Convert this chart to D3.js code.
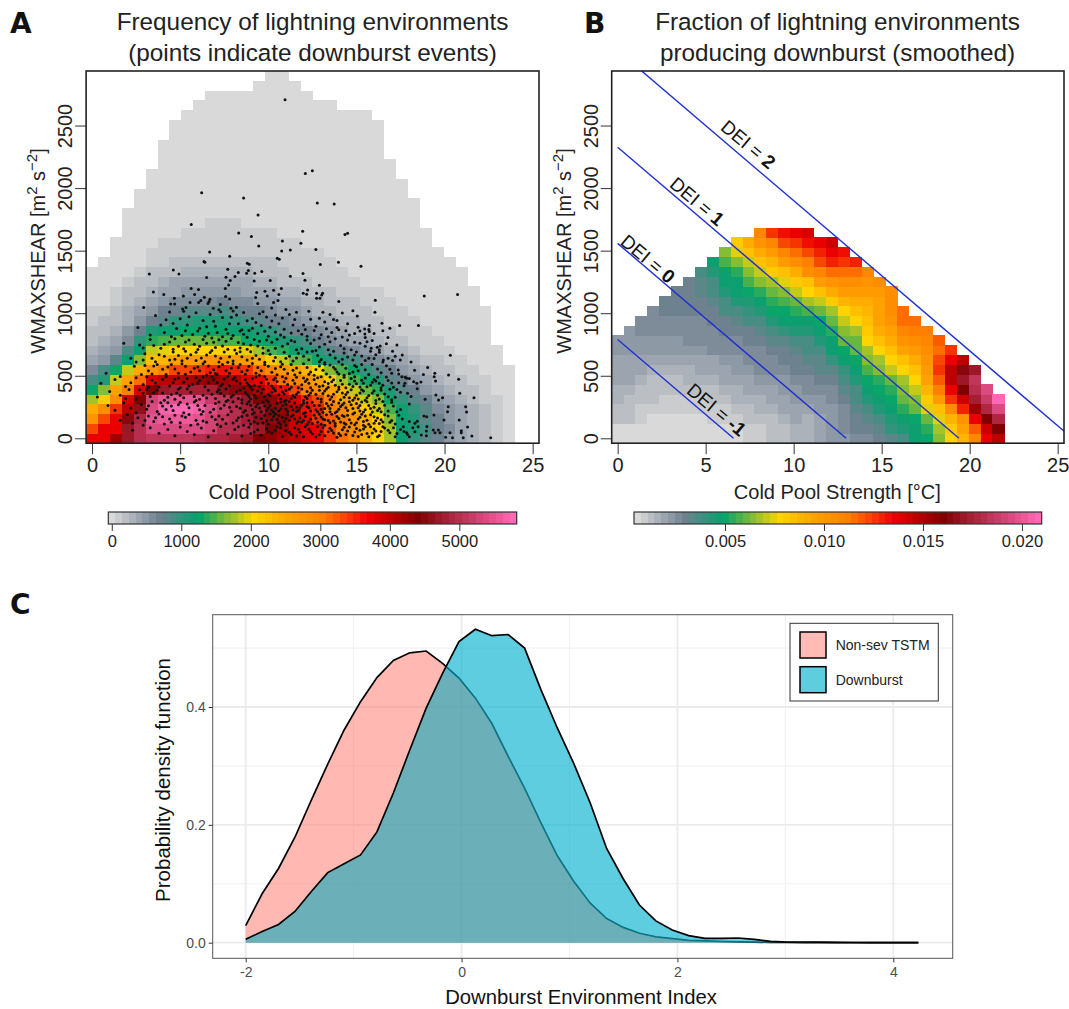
<!DOCTYPE html>
<html>
<head>
<meta charset="utf-8">
<script src="https://cdn.jsdelivr.net/npm/d3@7"></script>
<style>
  html, body { margin: 0; background: #fff; }
  text { font-family: "Liberation Sans", Arial, sans-serif; }
</style>
</head>
<body>
<div id="chart"></div>
<script>
// A: lightning environment counts per grid cell, rows bottom to top, columns left to right
const freqRows = [
  [3700,3750,4250,4700,4950,5050,5100,5050,5050,5000,4900,4850,4800,4700,4450,4300,4100,4050,3800,3700,3400,3100,2900,2400,2030,1750,1150,1000,760,650,470,360,280,170,100,30],
  [3300,3700,3750,4650,4950,5400,5350,5400,5400,5350,5300,5000,4950,4850,4700,4400,4200,3900,3800,3750,3300,3000,2800,2450,2150,1800,1200,1100,850,700,550,400,300,180,110,30],
  [2700,3300,3750,4500,4900,5450,5550,5600,5600,5500,5250,5100,4950,4800,4600,4500,4300,3950,3750,3450,3200,3000,2700,2400,2100,1700,1200,1050,800,650,470,380,290,170,100,30],
  [2400,2800,3400,4000,4600,5400,5700,5800,5800,5700,5400,5200,5000,4800,4650,4500,4250,4000,3600,3500,3000,2900,2500,2200,1900,1500,1150,950,750,600,450,350,250,150,80,30],
  [1800,2200,2800,3800,4450,5300,5450,5450,5500,5500,5200,5050,4850,4650,4450,4300,4000,3850,3500,3300,2900,2500,2300,1900,1650,1250,1000,800,650,500,380,300,200,130,60,30],
  [1300,1700,2500,3000,3800,4400,4700,4750,4800,4800,4750,4600,4500,4300,4100,3850,3650,3300,3000,2800,2500,2300,1900,1550,1350,1050,800,700,500,400,280,220,150,80,30,30],
  [850,1100,1900,2500,3100,3800,4000,4000,4150,4250,4300,4250,4100,3850,3700,3400,3100,2900,2700,2500,2200,1800,1500,1250,1050,820,650,500,400,300,220,170,100,60,30,30],
  [550,900,1300,1850,2400,2750,3000,3350,3350,3400,3500,3600,3500,3400,3100,2900,2700,2500,2300,2100,1700,1500,1250,1000,800,650,500,400,300,220,170,120,100,30,30,30],
  [400,500,800,1200,1650,2250,2350,2500,2600,2600,2700,2700,2650,2600,2400,2200,1900,1600,1450,1300,1100,1000,850,700,550,450,350,250,200,150,120,90,30,30,30],
  [300,400,500,850,1200,1900,2000,2050,2100,2100,2100,2100,2100,1950,1750,1500,1350,1200,1100,950,800,700,600,500,400,320,250,180,130,100,70,30,30,30,30],
  [220,280,420,600,950,1350,1500,1550,1550,1550,1550,1500,1450,1300,1250,1150,1050,950,850,700,620,530,430,350,280,200,160,120,90,60,30,30,30,30],
  [170,220,300,450,700,1050,1200,1220,1250,1250,1250,1250,1200,1150,1050,950,800,720,650,550,470,400,330,260,200,150,120,90,60,30,30,30,30,30],
  [120,170,240,330,500,700,820,950,1000,1050,1050,1050,950,900,800,720,640,560,480,420,350,300,250,200,160,120,90,60,30,30,30,30,30,30],
  [60,100,170,250,380,530,640,700,800,780,820,850,800,700,640,580,520,450,380,320,280,240,190,150,120,90,60,30,30,30,30,30,30,30],
  [30,30,120,180,280,380,450,550,600,600,620,640,600,550,500,450,400,350,300,250,210,180,150,120,90,60,30,30,30,30,30,30,30],
  [30,30,110,150,220,280,350,420,480,480,500,500,480,430,380,350,300,260,220,190,160,140,120,90,60,30,30,30,30,30,30,30,30],
  [30,30,30,110,150,210,250,350,350,350,350,350,350,350,280,250,220,190,160,140,120,100,80,30,30,30,30,30,30,30,30,30],
  [30,30,30,30,120,150,220,220,260,260,260,260,260,260,210,200,160,140,120,110,100,100,30,30,30,30,30,30,30,30,30,30],
  [0,30,30,30,30,130,140,150,220,220,220,220,220,220,150,150,130,120,110,100,100,30,30,30,30,30,30,30,30,30,30],
  [0,0,30,30,30,120,130,130,130,130,130,130,130,130,130,130,120,110,100,100,30,30,30,30,30,30,30,30,30,30],
  [0,0,30,30,30,30,120,120,125,125,125,125,125,125,125,125,110,100,30,30,30,30,30,30,30,30,30,30,30],
  [0,0,0,30,30,30,30,30,120,120,125,125,125,125,125,125,30,30,30,30,30,30,30,30,30,30,30,30,30],
  [0,0,0,30,30,30,30,30,30,30,120,120,120,30,30,30,30,30,30,30,30,30,30,30,30,30,30,30]
];
// rows above those hold only the lowest bin: first and last column of each
const freqTopSpans = [[3,27],[4,27],[4,26],[5,26],[5,25],[6,25],[6,24],[6,24],[7,24],[7,24],[8,23],[9,20],[10,18],[14,17],[15,16]];
const freqTopValue = 30;

// B: downburst fraction in thousandths, one array per column, from the bottom cell up
const fracCols = [
  [.6,.6,1.3,1.4,1.5,1.7,1.9,1.9,1.9,2.4,2.4],
  [.6,.6,1.1,1.2,1.3,1.5,1.8,1.9,2.0,2.3,2.4,2.3],
  [.6,.6,1.0,1.0,1.3,1.3,1.6,1.8,2.0,2.2,2.4,2.6,2.7],
  [.6,.6,.6,1.0,1.1,1.2,1.4,1.7,1.9,2.2,2.3,2.6,2.7,2.7],
  [.6,.6,.6,.9,1.0,1.1,1.3,1.7,1.9,2.2,2.3,2.6,2.7,2.9,3.0],
  [.6,.6,.6,.9,1.0,1.2,1.4,1.5,2.0,2.2,2.4,2.6,2.7,2.9,3.1,3.0],
  [.6,.6,.6,.8,1.0,1.3,1.5,1.7,1.9,2.2,2.5,2.6,2.8,2.9,3.0,3.1,3.0],
  [.6,.6,.7,.9,1.0,1.3,1.5,1.8,2.0,2.3,2.5,2.7,2.8,2.9,3.0,3.2,3.4,3.7],
  [.6,.6,.8,1.0,1.2,1.4,1.7,1.9,2.1,2.5,2.6,2.8,2.9,3.0,3.2,3.5,3.8,4.4,4.6],
  [.6,.6,.9,1.0,1.3,1.6,1.8,2.0,2.2,2.5,2.7,2.9,3.0,3.5,3.7,4.3,4.7,4.8,5.6,6.3],
  [.6,.6,.9,1.2,1.5,1.7,1.9,2.2,2.4,2.7,2.8,2.9,3.3,3.7,4.4,4.6,4.8,5.4,6.4,7.4,8.2],
  [.9,.9,1.1,1.3,1.6,1.9,2.0,2.4,2.5,2.7,2.9,3.1,3.7,4.1,4.5,4.9,5.6,6.4,7.1,8.6,9.3],
  [.9,1.0,1.2,1.5,1.7,2.0,2.2,2.5,2.7,2.8,3.0,3.3,3.7,4.3,4.8,5.4,6.4,7.0,8.4,9.2,10.2,11.0],
  [1.3,1.1,1.4,1.6,1.9,2.1,2.3,2.6,2.8,2.9,3.2,3.8,4.2,4.9,5.3,6.0,6.6,8.0,8.9,9.8,11.0,12.6],
  [1.3,1.4,1.6,1.8,2.0,2.2,2.4,2.8,3.0,3.1,3.4,4.0,4.6,5.0,5.7,6.5,7.4,8.6,9.7,10.8,12.2,13.2],
  [1.6,1.7,1.8,2.0,2.2,2.4,2.6,2.9,3.1,3.2,3.7,4.3,4.8,5.3,6.2,7.0,8.2,9.3,10.6,11.4,12.7,13.6],
  [1.6,1.6,1.7,2.1,2.3,2.5,2.7,3.0,3.4,3.7,3.8,4.3,4.8,5.6,6.6,7.7,8.6,10.4,11.2,12.4,13.4,13.8],
  [2.0,2.0,2.1,2.2,2.4,2.7,2.9,3.2,3.4,3.6,4.2,4.8,5.2,6.2,7.0,8.4,10.0,11.0,12.2,13.0,13.7],
  [2.2,2.2,2.2,2.3,2.5,2.8,3.0,3.4,3.9,4.8,4.6,5.5,6.0,6.6,8.0,9.0,10.2,11.4,12.8,13.7,14.4],
  [2.4,2.5,2.7,2.8,3.0,3.3,3.7,4.1,4.6,5.0,5.9,6.3,7.0,7.8,8.8,9.8,10.7,11.7,12.7,13.4],
  [2.7,2.9,3.0,3.2,3.5,3.8,4.3,4.7,5.0,6.2,6.0,6.8,7.8,8.4,9.0,9.8,10.6,11.6,12.8],
  [2.8,3.0,3.4,3.6,4.2,4.6,5.0,5.6,6.4,6.8,7.8,8.0,8.3,8.8,9.3,9.7,10.3,11.0],
  [3.1,3.4,3.8,4.3,4.7,4.9,5.5,6.3,6.7,7.8,8.6,9.1,9.4,9.6,9.5,9.8,10.4],
  [3.4,3.9,4.4,4.8,5.0,5.4,6.2,7.0,7.7,8.6,9.0,9.6,10.2,10.6,10.6,10.4],
  [3.7,4.5,4.8,5.4,5.9,6.5,6.9,7.9,8.4,9.4,10.2,10.8,11.4,11.4],
  [4.7,4.6,5.0,6.0,6.5,7.0,7.7,8.4,9.0,9.7,10.6,11.3,11.6],
  [5.0,5.5,6.0,7.4,8.1,8.9,9.6,10.0,10.3,10.6,11.0,11.3],
  [6.3,6.6,7.6,8.5,10.0,11.2,12.0,12.6,12.3,11.7,11.8],
  [7.7,8.0,8.9,10.6,12.5,13.5,14.8,14.8,13.5,12.5],
  [8.8,9.6,10.3,13.0,14.2,16.0,17.0,16.5,14.5],
  [11.0,12.0,13.5,15.5,17.4,18.2,18.5,17.2],
  [13.7,14.3,16.0,17.8,18.8,19.6],
  [14.8,16.0,17.8,19.5,21.0]
];

// A: downburst events [cold pool strength, wmaxshear]
const eventPoints = [
  [10.95,2706],[6.22,1962],[8.6,1920],[9.42,1784],[5.63,1709],[8.32,1642],[9.04,1613],[10.8,1578],[9.46,1538],[10.76,1498],[11.25,1506],[6.67,1490],[7.81,1456],[10.51,1440],[10.62,1432],[6.35,1413],[6.4,1408],[8.81,1400],[8.92,1392],[4.61,1346],[4.93,1314],[3.25,1314],[7.7,1352],[8.3,1325],[8.87,1341],[8.77,1320],[9.23,1320],[9.63,1333],[6.5,1285],[7.6,1288],[8.11,1293],[11.25,1296],
  [12.1,2117],[12.5,2138],[12.78,1880],[13.74,1872],[11.95,1656],[14.35,1629],[14.5,1640],[11.85,1560],[12.7,1509],[13.98,1408],[12.95,1389],[15.26,1376],
  [7.84,1261],[9.2,1258],[10.11,1261],[7.75,1226],[7.56,1197],[10.74,1197],[10.3,1184],[9.81,1176],[9.34,1165],[9.94,1138],[10.6,1149],[9.28,1125],[7.58,1133],[7.81,1114],[3.48,1170],[4.07,1149],[5.18,1138],[5.62,1197],[6.04,1189],[5.82,1149],[4.67,1120],[4.46,1074],[4.69,1074],[6.37,1128],[5.56,1085],[6.05,1085],[6.17,1101],[6.69,1112],[6.64,1093],[6.58,1077],[7.28,1069],[9.4,1077],[10.3,1085],[10.55,1101],[10.19,1042],[2.93,1045],[7.88,1040],[8.19,1048],[6.88,1040],[5.33,1045],[5.14,1034],
  [11.97,1317],[12.08,1264],[12.9,1224],[12.23,1186],[12.74,1160],[13.08,1160],[13.03,1146],[11.98,1160],[12.18,1152],[12.74,1120],[12.93,1120],[14.0,1093],[16.07,1104],[18.85,1138],[20.74,1149],[16.05,1008],[15.05,978],[16.45,920],[17.45,901],[18.52,901],[15.73,901],[15.73,853],[15.47,874],[15.48,834],[16.79,805],[15.84,720],[16.18,728],[16.35,738],[17.05,696],[20.33,664],[16.0,637],[16.53,626],[17.05,621],[17.49,626],[19.04,565],[19.45,520],[19.41,493],[19.49,458],[20.23,506],[20.8,472],[17.37,546],[17.58,493],[17.77,488],[17.85,480],[17.75,440],[18.25,453],[18.66,450],[18.45,397],[18.43,440],[20.86,360],[21.67,325],[19.51,346],[19.89,325],[19.66,306],[21.2,253],[21.25,210],[20.21,253],[20.17,213],[19.97,146],[20.83,146],[21.31,90],[20.95,60],[20.95,45],[21.55,18],[22.62,5],[21.06,5],[20.31,45],[20.45,5],[20.06,8],[19.4,186],[18.83,178],[18.99,173],[18.45,136],[18.5,93],[19.36,66],[19.65,66],[19.74,45],[19.46,45],[18.97,58],[18.68,26],[18.97,21],[18.32,120],[18.32,53],[17.85,45],[17.66,93],
  // 1000-800
  [3.6,982],[4.4,1010],[5.0,955],[5.9,1003],[6.7,990],[7.3,1012],[7.9,968],[8.6,1006],[9.1,958],[9.7,1012],[10.4,985],[11.0,1030],[11.6,1008],[12.3,1015],[12.9,960],[13.5,990],[14.2,1002],[14.8,1020],[5.4,905],[6.1,880],[6.9,935],[7.6,872],[8.3,915],[8.9,862],[9.6,902],[10.2,938],[10.9,872],[11.5,950],[12.0,905],[12.6,862],[13.2,930],[13.9,885],[14.5,915],[4.1,845],[4.8,878],[5.7,830],[6.4,815],[7.1,845],[8.0,822],[8.8,808],[9.4,838],[10.0,815],[10.7,826],[11.3,842],[12.2,815],[13.0,828],[13.6,845],[14.2,810],[14.9,838],[15.5,805],[3.3,825],[16.5,860],[3.9,905],[2.6,885],
  [4.2,948],[5.5,972],[6.3,942],[7.0,895],[7.4,965],[8.2,985],[8.5,868],[9.3,925],[9.9,970],[10.6,915],[11.2,990],[12.4,952],[12.7,895],[13.3,875],[13.7,950],[14.4,860],[15.1,888],[5.1,822],[6.0,858],[6.8,802],[7.7,838],[8.4,858],[9.1,880],[10.4,850],[11.7,860],[12.9,800],[14.6,825],[15.2,858],[16.0,838],[16.9,880],
  [4.6,918],[5.2,1016],[6.5,892],[7.2,1028],[7.8,915],[8.0,1018],[8.8,940],[9.5,995],[10.1,888],[10.8,962],[11.4,905],[12.1,870],[13.1,1008],[13.9,942],[4.5,812],[5.3,860],[6.6,840],[7.4,812],[8.6,832],[9.8,855],[10.9,808],[11.9,832],[13.4,812],[14.0,868],[15.7,870],
  // 800-600
  [1.8,760],[2.7,745],[3.3,790],[3.9,720],[4.4,770],[4.9,735],[5.5,785],[6.0,710],[6.5,760],[7.0,725],[7.6,775],[8.1,705],[8.6,755],[9.2,790],[9.7,722],[10.2,768],[10.8,735],[11.3,782],[11.9,715],[12.4,758],[12.9,730],[13.5,772],[14.1,742],[14.7,708],[15.2,760],[15.9,782],[16.7,755],[4.1,655],[4.6,690],[5.1,620],[5.6,668],[6.2,642],[6.7,685],[7.2,610],[7.8,652],[8.2,678],[8.8,625],[9.3,662],[9.8,608],[10.4,645],[10.9,688],[11.4,618],[12.0,655],[12.5,695],[13.0,630],[13.5,668],[14.0,612],[14.5,650],[15.0,690],[15.5,622],[16.1,668],[16.8,640],[17.6,665],[18.1,610],[3.0,675],[2.2,640],[2.5,610],[3.6,612],
  [3.5,742],[4.7,795],[5.2,715],[5.8,752],[6.3,790],[6.8,702],[7.4,738],[7.9,798],[8.4,722],[9.0,745],[9.5,775],[10.0,702],[10.5,792],[11.1,755],[11.6,708],[12.2,785],[12.7,702],[13.2,752],[13.8,795],[14.3,715],[14.9,768],[15.5,735],[16.3,708],[17.3,745],[3.4,640],[4.4,625],[4.9,662],[5.4,640],[5.9,688],[6.4,612],[7.0,658],[7.5,690],[8.0,618],[8.5,652],[9.0,692],[9.5,632],[10.1,672],[10.7,612],[11.2,655],[11.7,680],[12.3,628],[12.8,662],[13.2,605],[13.8,642],[14.3,682],[14.8,625],[15.3,658],[15.8,695],[16.5,610],[17.2,655],
  [2.9,722],[4.1,752],[4.6,712],[5.3,770],[6.1,735],[6.9,768],[7.2,788],[7.7,712],[8.3,765],[8.8,712],[9.4,738],[9.9,785],[10.4,720],[11.5,772],[12.6,785],[13.4,708],[14.5,785],[15.6,772],[2.9,625],[3.8,668],[4.7,632],[5.3,695],[5.9,622],[6.5,665],[7.3,640],[7.7,608],[8.4,692],[9.1,640],[9.7,680],[10.3,618],[11.0,640],[11.6,642],[12.2,690],[12.9,612],[13.7,695],[14.2,632],[14.9,665],[15.7,640],[16.3,688],
  // 600-500
  [0.8,520],[2.4,575],[3.2,540],[3.7,590],[4.2,510],[4.7,555],[5.1,595],[5.6,530],[6.0,570],[6.5,505],[6.9,548],[7.4,590],[7.8,520],[8.3,565],[8.7,512],[9.1,598],[9.6,540],[10.0,575],[10.5,508],[10.9,552],[11.3,590],[11.8,525],[12.2,565],[12.6,505],[13.1,545],[13.5,585],[14.0,515],[14.4,560],[14.8,530],[15.3,590],[15.7,510],[16.2,555],[16.7,580],[17.0,520],[18.3,545],[18.8,510],[5.3,575],[7.1,510],[9.4,565],[11.5,508],[13.8,552],[15.1,540],
  [2.8,510],[3.5,578],[4.0,552],[4.5,590],[4.9,520],[5.8,560],[6.3,595],[6.7,525],[7.2,572],[7.6,540],[8.0,595],[8.5,532],[8.9,575],[9.3,520],[9.8,590],[10.2,528],[10.7,572],[11.1,518],[11.6,562],[12.0,595],[12.4,530],[12.9,578],[13.3,515],[13.7,568],[14.2,590],[14.6,518],[15.0,572],[15.5,548],[15.9,590],[16.4,525],[16.9,552],[17.4,515],
  [3.0,582],[3.4,515],[4.3,570],[5.3,512],[6.1,540],[6.6,578],[7.0,518],[7.9,562],[8.4,590],[8.8,545],[9.5,505],[10.4,558],[10.8,592],[11.4,545],[12.3,512],[12.7,550],[13.2,592],[13.9,530],[14.3,505],[14.9,582],
  // 500-400
  [0.5,440],[1.3,470],[1.9,415],[2.5,485],[2.9,430],[3.4,465],[3.8,410],[4.2,492],[4.6,445],[5.0,405],[5.4,478],[5.7,430],[6.1,462],[6.4,412],[6.8,495],[7.1,445],[7.5,475],[7.8,420],[8.1,488],[8.4,438],[8.7,468],[9.0,408],[9.3,490],[9.6,445],[9.9,472],[10.2,418],[10.5,455],[10.8,492],[11.1,430],[11.4,465],[11.7,405],[12.0,482],[12.3,440],[12.6,470],[12.9,415],[13.2,452],[13.5,490],[13.8,425],[14.1,462],[14.4,405],[14.7,478],[15.0,436],[15.3,465],[15.6,412],[15.9,448],[16.2,488],[16.5,425],[16.8,462],[17.1,408],[17.4,445],[18.0,478],[6.3,490],[8.9,425],[10.7,410],[12.1,455],[13.4,408],[14.9,492],[16.0,470],
  [1.6,495],[2.2,445],[3.1,492],[3.6,442],[4.0,470],[4.4,418],[4.9,482],[5.2,448],[5.9,485],[6.6,445],[7.3,418],[7.7,495],[8.2,458],[8.6,402],[9.1,478],[9.5,415],[10.0,438],[10.4,482],[10.9,452],[11.3,408],[11.6,488],[11.9,428],[12.2,470],[12.7,432],[13.0,492],[13.4,438],[13.7,468],[14.0,410],[14.3,488],[14.6,432],[14.9,458],[15.2,410],[15.5,482],[15.8,425],[16.1,458],[16.4,405],[16.7,490],[17.0,442],[17.7,420],
  [3.2,408],[4.7,472],[5.5,418],[6.0,440],[6.9,468],[7.4,432],[8.0,472],[8.8,442],[9.2,422],[9.8,495],[10.3,468],[11.0,480],[11.5,438],[12.4,405],[12.8,485],[13.1,420],[13.6,452],[14.2,432],[14.8,415],[15.4,440],[16.3,440],
  // 400-300
  [0.3,330],[1.0,375],[1.6,345],[2.1,390],[2.5,315],[2.9,360],[3.3,335],[3.7,385],[4.1,305],[4.5,350],[4.9,392],[5.2,325],[5.6,368],[5.9,302],[6.3,345],[6.6,385],[7.0,318],[7.3,360],[7.6,395],[7.9,330],[8.2,372],[8.5,308],[8.8,350],[9.1,388],[9.3,322],[9.6,362],[9.9,305],[10.1,340],[10.4,380],[10.7,315],[10.9,355],[11.2,392],[11.5,328],[11.7,368],[12.0,302],[12.3,345],[12.5,385],[12.8,318],[13.1,358],[13.3,395],[13.6,330],[13.9,372],[14.1,308],[14.4,350],[14.7,388],[14.9,322],[15.2,362],[15.5,305],[15.7,342],[16.0,380],[16.3,315],[16.6,355],[16.9,392],[17.2,328],[17.5,368],[18.1,335],[18.9,312],[9.0,315],[10.3,398],[11.0,302],[12.2,375],[13.5,310],[14.6,325],[15.4,378],[16.2,345],[17.0,308],
  [1.9,318],[2.7,388],[3.5,365],[4.3,328],[4.8,362],[5.4,395],[6.1,312],[6.8,352],[7.2,388],[7.7,305],[8.0,345],[8.4,385],[8.9,335],[9.4,378],[9.8,332],[10.2,368],[10.6,348],[11.0,382],[11.3,318],[11.6,352],[11.9,395],[12.1,332],[12.4,362],[12.7,352],[13.0,312],[13.2,378],[13.7,352],[14.0,392],[14.3,328],[14.5,368],[14.8,305],[15.0,345],[15.3,388],[15.6,325],[15.9,362],[16.1,302],[16.4,385],[16.8,332],[17.3,390],[17.9,360],
  [3.1,390],[4.0,362],[4.7,312],[5.0,345],[5.8,335],[6.5,322],[7.1,372],[7.5,338],[8.3,318],[8.7,368],[9.2,345],[9.7,392],[10.0,352],[10.8,370],[11.4,342],[12.2,318],[12.9,385],[13.4,340],[14.2,362],[15.1,315],
  // 300-200
  [0.9,262],[1.3,225],[1.8,285],[2.2,242],[2.5,205],[2.8,270],[3.1,232],[3.4,295],[3.7,215],[4.0,258],[4.3,285],[4.6,222],[4.9,268],[5.2,205],[5.5,245],[5.8,290],[6.1,228],[6.4,262],[6.7,208],[7.0,278],[7.3,238],[7.6,295],[7.9,215],[8.2,255],[8.5,282],[8.7,222],[9.0,265],[9.2,205],[9.5,242],[9.7,288],[9.9,225],[10.1,262],[10.3,208],[10.5,278],[10.7,235],[10.9,295],[11.1,215],[11.3,255],[11.5,282],[11.7,222],[11.9,265],[12.1,205],[12.3,245],[12.5,288],[12.7,228],[12.9,262],[13.1,208],[13.3,278],[13.5,238],[13.7,295],[13.9,215],[14.1,255],[14.3,282],[14.5,222],[14.7,268],[14.9,205],[15.1,245],[15.3,290],[15.5,228],[15.7,262],[15.9,210],[16.1,278],[16.3,238],[16.5,295],[16.8,218],[17.1,258],[17.5,230],[18.0,275],[10.0,242],[10.6,218],[11.0,272],[11.6,248],[12.2,285],[12.8,212],[13.4,258],[14.0,232],[14.6,292],[15.2,262],[15.8,238],[9.4,275],[8.9,295],
  [3.2,260],[4.2,230],[5.0,288],[6.0,262],[6.9,232],[7.5,265],[8.0,292],[8.4,240],[8.8,275],[9.1,230],[9.6,212],[9.8,258],[10.0,290],[10.4,240],[10.8,262],[11.2,295],[11.4,228],[11.8,245],[12.0,280],[12.4,218],[12.6,262],[13.0,290],[13.2,238],[13.6,268],[13.8,205],[14.0,282],[14.4,245],[14.8,238],[15.0,278],[15.4,210],[15.6,292],[16.0,248],[16.2,222],[16.6,265],[17.0,288],[17.3,212],
  [3.9,285],[4.5,258],[5.4,275],[6.3,215],[7.2,290],[7.8,248],[8.6,208],[9.3,252],[10.2,225],[10.7,288],[11.0,235],[11.6,215],[12.2,255],[13.0,232],[13.5,212],[14.2,268],[15.2,218],[16.4,212],
  // 200-100
  [1.6,145],[2.0,190],[2.3,120],[2.6,165],[2.9,105],[3.2,178],[3.5,135],[3.8,195],[4.1,115],[4.4,155],[4.7,185],[5.0,125],[5.3,168],[5.6,105],[5.9,145],[6.2,192],[6.5,128],[6.8,172],[7.1,110],[7.4,152],[7.7,188],[8.0,122],[8.3,165],[8.6,105],[8.9,142],[9.1,195],[9.4,118],[9.6,158],[9.8,182],[10.0,112],[10.2,148],[10.4,192],[10.6,125],[10.8,168],[11.0,105],[11.2,145],[11.4,185],[11.6,120],[11.8,162],[12.0,198],[12.2,110],[12.4,152],[12.6,185],[12.8,128],[13.0,170],[13.2,105],[13.4,142],[13.6,192],[13.8,118],[14.0,158],[14.2,182],[14.4,112],[14.6,148],[14.8,195],[15.0,125],[15.2,168],[15.4,105],[15.6,145],[15.8,188],[16.0,120],[16.2,162],[16.5,130],[16.8,178],[17.2,115],[17.6,155],[18.0,135],[10.9,135],[11.3,172],[11.9,128],[12.5,118],[13.1,155],[13.7,138],[14.3,175],[14.9,108],[15.5,178],[16.1,140],[9.2,132],[10.3,175],[12.9,192],[16.9,128],
  [3.0,142],[4.0,172],[5.5,190],[6.0,112],[7.2,178],[8.2,142],[8.8,185],[9.3,168],[9.9,138],[10.1,195],[10.5,152],[10.7,108],[11.1,188],[11.5,155],[11.7,135],[12.1,175],[12.3,130],[12.7,160],[13.0,112],[13.3,188],[13.5,125],[13.9,175],[14.1,130],[14.5,185],[14.7,122],[15.1,155],[15.3,192],[15.7,112],[16.0,172],[16.3,118],[16.6,188],[17.0,142],[17.4,185],
  [3.6,165],[4.5,128],[5.1,178],[6.3,138],[7.0,150],[7.6,118],[8.5,175],[9.0,115],[9.7,122],[10.6,182],[11.0,158],[12.0,142],[13.2,148],[14.3,122],[15.4,135],[16.4,148],
  // 100-0
  [2.3,65],[3.3,85],[3.8,40],[4.3,70],[4.7,20],[5.0,90],[5.4,55],[5.8,30],[6.2,82],[6.6,12],[6.9,60],[7.3,95],[7.7,35],[8.1,70],[8.5,18],[8.9,88],[9.2,50],[9.6,25],[9.9,78],[10.2,42],[10.5,92],[10.8,15],[11.0,62],[11.3,30],[11.5,85],[11.8,48],[12.0,12],[12.3,72],[12.5,35],[12.8,95],[13.0,55],[13.2,20],[13.5,80],[13.7,42],[13.9,8],[14.2,68],[14.4,30],[14.6,90],[14.9,50],[15.1,15],[15.4,75],[15.6,38],[15.8,92],[16.1,58],[16.3,22],[16.6,82],[16.9,45],[17.2,12],[17.5,70],[17.9,30],[18.2,85],[19.0,95],[12.7,10],[13.4,52],[14.1,22],[15.0,78],[15.7,12],[16.4,55],[11.6,18],[10.4,65],
  [10.0,55],[10.7,85],[11.2,48],[11.7,72],[12.1,92],[12.4,52],[12.9,28],[13.1,85],[13.6,62],[13.8,98],[14.0,38],[14.3,88],[14.5,58],[14.8,22],[15.2,65],[15.3,30],[15.5,92],[15.9,42],[16.0,75],[16.2,12],[16.5,92],[16.8,65],[17.1,85],[17.3,38],[17.7,55],[18.0,12],[8.3,92],[9.0,38],[9.4,68]
];

// DEI isolines in panel B
const deiValues = [-1, 0, 1, 2];
const deiIntercepts = [790, 1558, 2327, 3100];
const deiSlope = -120;

// C: kernel densities on a shared x grid
const densityX = [-2,-1.848,-1.696,-1.544,-1.392,-1.24,-1.088,-.936,-.784,-.632,-.48,-.328,-.176,-.024,.128,.28,.432,.584,.736,.888,1.04,1.192,1.344,1.496,1.648,1.8,1.952,2.104,2.256,2.408,2.56,2.712,2.864,3.016,3.168,3.32,3.472,3.624,3.776,3.928,4.08,4.232];
const nonSevDensity = [.029,.083,.126,.179,.242,.303,.361,.409,.45,.479,.492,.495,.474,.449,.415,.372,.316,.262,.203,.147,.104,.067,.041,.026,.016,.01,.007,.004,.003,.002,.0015,.001,.0005,.0003,.0002,.0002,.0001,.0001,.0001,0,0,0];
const downburstDensity = [.0057,.019,.031,.053,.087,.119,.134,.149,.188,.254,.327,.398,.457,.511,.532,.521,.523,.5,.429,.364,.304,.237,.16,.109,.064,.037,.0215,.012,.0075,.0075,.008,.0057,.0023,.001,.0012,.0009,.0005,.0003,.0002,.0002,.0001,.0001];

const xTicks = [0, 5, 10, 15, 20, 25];
const yTicks = [0, 500, 1000, 1500, 2000, 2500];
const freqBarTicks = [0, 1000, 2000, 3000, 4000, 5000];
const fracBarTicks = [0.005, 0.010, 0.015, 0.020];
const rampPos = [0, .117, .215, .354, .434, .526, .64, .762, 1];
const rampColors = ["#d9d9d9", "#708090", "#00a36c", "#ffd500", "#ffa500", "#ff7f00", "#ee0000", "#800000", "#ff69b4"];

const nBins = 60, cellW = 0.676, cellH = 78.3;
const ramp = d3.scaleLinear().domain(rampPos).range(rampColors).interpolate(d3.interpolateRgb);
const binColor = t => ramp(Math.min(nBins - 1, Math.floor(t * nBins)) / (nBins - 1));

const svg = d3.select("#chart").append("svg").attr("width", 1069).attr("height", 1009);
svg.append("rect").attr("width", 1069).attr("height", 1009).attr("fill", "#fff");

function heatPanel(left, right, cells, color) {
  const x = d3.scaleLinear().domain([-0.338, 25.36]).range([left, right]);
  const y = d3.scaleLinear().domain([-39.1, 2936]).range([443.2, 71]);
  const g = svg.append("g");
  g.selectAll("rect").data(cells).join("rect")
    .attr("x", d => x(d.k * cellW - cellW / 2))
    .attr("width", x(cellW) - x(0) + 0.3)
    .attr("y", d => y(d.j * cellH + cellH / 2))
    .attr("height", y(0) - y(cellH) + 0.3)
    .attr("shape-rendering", "crispEdges")
    .attr("fill", d => color(d.v));
  const gx = svg.append("g").attr("transform", "translate(0,443.2)")
    .call(d3.axisBottom(x).tickValues(xTicks).tickSize(11).tickPadding(4));
  const gy = svg.append("g").attr("transform", `translate(${left},0)`)
    .call(d3.axisLeft(y).tickValues(yTicks).tickSize(11).tickFormat(d3.format("d")));
  gx.select(".domain").remove();
  gy.select(".domain").remove();
  gx.selectAll("line").attr("stroke", "#333");
  gy.selectAll("line").attr("stroke", "#333");
  gx.selectAll("text").attr("font-size", 20).attr("fill", "#222").attr("font-family", "Liberation Sans");
  gy.selectAll("text").attr("font-size", 20).attr("fill", "#222").attr("font-family", "Liberation Sans")
    .attr("text-anchor", "middle").attr("x", 0).attr("dy", 0)
    .attr("transform", "translate(-14,0) rotate(-90)");
  svg.append("text").attr("x", (left + right) / 2 - 0.5).attr("y", 499).attr("text-anchor", "middle")
    .attr("font-size", 20).attr("fill", "#222").text("Cold Pool Strength [°C]");
  const lab = svg.append("text").attr("transform", `translate(${left - 41},251) rotate(-90)`)
    .attr("text-anchor", "middle").attr("font-size", 20).attr("fill", "#222");
  lab.append("tspan").text("WMAXSHEAR [m");
  lab.append("tspan").attr("dy", -8).attr("font-size", 15).text("2");
  lab.append("tspan").attr("dy", 8).text("  s");
  lab.append("tspan").attr("dy", -8).attr("font-size", 15).text("−2");
  lab.append("tspan").attr("dy", 8).text("]");
  return { x, y };
}

function panelFrame(left, right) {
  svg.append("rect").attr("x", left).attr("y", 71).attr("width", right - left).attr("height", 372.2)
    .attr("fill", "none").attr("stroke", "#222").attr("stroke-width", 1.6);
}

function colorBar(left, right, lo, hi, ticks, fmt) {
  const s = d3.scaleLinear().domain([lo, hi]).range([left, right]);
  const w = (right - left) / nBins;
  svg.append("g").selectAll("rect").data(d3.range(nBins)).join("rect")
    .attr("x", i => left + i * w).attr("width", w + 0.5).attr("y", 512).attr("height", 12)
    .attr("shape-rendering", "crispEdges")
    .attr("fill", i => binColor((i + 0.5) / nBins));
  svg.append("rect").attr("x", left).attr("y", 512).attr("width", right - left).attr("height", 12)
    .attr("fill", "none").attr("stroke", "#333").attr("stroke-width", 1.2);
  const g = svg.append("g").attr("transform", "translate(0,524)")
    .call(d3.axisBottom(s).tickValues(ticks).tickSize(7).tickPadding(4).tickFormat(fmt));
  g.select(".domain").remove();
  g.selectAll("line").attr("stroke", "#333");
  g.selectAll("text").attr("font-size", 16.5).attr("fill", "#222").attr("font-family", "Liberation Sans");
}

function titles(cx, a, b) {
  [a, b].forEach((t, i) => svg.append("text").attr("x", cx).attr("y", 30 + i * 31).attr("text-anchor", "middle")
    .attr("font-size", 24.3).attr("fill", "#222").text(t));
}

function panelLetter(x, y, t) {
  svg.append("text").attr("x", x).attr("y", y).attr("font-size", 28).attr("font-weight", 700)
    .style("font-family", "'DejaVu Sans'").attr("fill", "#111").text(t);
}

// panel A
const freqCells = [];
freqRows.forEach((row, j) => row.forEach((v, k) => { if (v > 0) freqCells.push({ j, k, v }); }));
freqTopSpans.forEach((sp, i) => {
  for (let k = sp[0]; k <= sp[1]; k++) freqCells.push({ j: freqRows.length + i, k, v: freqTopValue });
});
const A = heatPanel(86.1, 539, freqCells, v => binColor((v + 50) / 5875));
svg.append("g").selectAll("circle").data(eventPoints).join("circle")
  .attr("cx", d => A.x(d[0])).attr("cy", d => A.y(d[1])).attr("r", 1.5).attr("fill", "#111");
panelFrame(86.1, 539);
colorBar(108.3, 516.7, -50, 5825, freqBarTicks, d3.format("d"));
titles(312.5, "Frequency of lightning environments", "(points indicate downburst events)");
panelLetter(10, 33, "A");

// panel B
const fracCells = [];
fracCols.forEach((col, k) => col.forEach((v, j) => fracCells.push({ j, k, v })));
const B = heatPanel(611.7, 1064, fracCells, v => binColor((v - 0.4) / 20.6));
svg.append("clipPath").attr("id", "panel-b").append("rect")
  .attr("x", 611.7).attr("y", 71).attr("width", 452.3).attr("height", 372.2);
svg.append("g").attr("clip-path", "url(#panel-b)").selectAll("line").data(deiValues).join("line")
  .attr("x1", B.x(0)).attr("y1", (d, i) => B.y(deiIntercepts[i]))
  .attr("x2", (d, i) => B.x(-deiIntercepts[i] / deiSlope)).attr("y2", B.y(0))
  .attr("stroke", "#1f2fd0").attr("stroke-width", 1.4);
// labels sit along the lines, just above them
const deiLabelAt = [[5.6, 225], [1.7, 1430], [4.5, 1890], [7.4, 2345]];
deiValues.forEach((d, i) => {
  const t = svg.append("text")
    .attr("transform", `translate(${B.x(deiLabelAt[i][0])},${B.y(deiLabelAt[i][1])}) rotate(40)`)
    .attr("text-anchor", "middle").attr("dy", 6).attr("font-size", 19).attr("fill", "#111");
  t.append("tspan").text("DEI = ");
  t.append("tspan").attr("font-weight", 700).text(d);
});
panelFrame(611.7, 1064);
colorBar(634, 1041.7, 0.0004, 0.021, fracBarTicks, d3.format(".3f"));
titles(837.5, "Fraction of lightning environments", "producing downburst (smoothed)");
panelLetter(584, 33, "B");

// panel C
const cx = d3.scaleLinear().domain([-2, 4]).range([245.7, 893.3]);
const cy = d3.scaleLinear().domain([0, 0.4]).range([942.7, 707]);
const cLeft = 212.7, cRight = 952.7, cTop = 614.7, cBottom = 958.3;
[-1, 1, 3].forEach(v => svg.append("line").attr("x1", cx(v)).attr("x2", cx(v)).attr("y1", cTop).attr("y2", cBottom)
  .attr("stroke", "#efefef").attr("stroke-width", 1));
[0.1, 0.3, 0.5].forEach(v => svg.append("line").attr("x1", cLeft).attr("x2", cRight).attr("y1", cy(v)).attr("y2", cy(v))
  .attr("stroke", "#efefef").attr("stroke-width", 1));
[-2, 0, 2, 4].forEach(v => svg.append("line").attr("x1", cx(v)).attr("x2", cx(v)).attr("y1", cTop).attr("y2", cBottom)
  .attr("stroke", "#ebebeb").attr("stroke-width", 1.8));
[0, 0.2, 0.4].forEach(v => svg.append("line").attr("x1", cLeft).attr("x2", cRight).attr("y1", cy(v)).attr("y2", cy(v))
  .attr("stroke", "#ebebeb").attr("stroke-width", 1.8));

const area = d3.area().x((d, i) => cx(densityX[i])).y0(cy(0)).y1(d => cy(d));
const line = d3.line().x((d, i) => cx(densityX[i])).y(d => cy(d));
svg.append("path").attr("d", area(nonSevDensity)).attr("fill", "#ff7466").attr("fill-opacity", 0.5);
svg.append("path").attr("d", line(nonSevDensity)).attr("fill", "none").attr("stroke", "#000").attr("stroke-width", 1.7);
svg.append("path").attr("d", area(downburstDensity)).attr("fill", "#00b0ce").attr("fill-opacity", 0.63);
svg.append("path").attr("d", area(nonSevDensity.map((d, i) => Math.min(d, downburstDensity[i]))))
  .attr("fill", "#a0a090").attr("fill-opacity", 0.2);
svg.append("path").attr("d", line(downburstDensity)).attr("fill", "none").attr("stroke", "#000").attr("stroke-width", 1.7);

svg.append("rect").attr("x", cLeft).attr("y", cTop).attr("width", cRight - cLeft).attr("height", cBottom - cTop)
  .attr("fill", "none").attr("stroke", "#555").attr("stroke-width", 1);
const gcx = svg.append("g").attr("transform", `translate(0,${cBottom})`)
  .call(d3.axisBottom(cx).tickValues([-2, 0, 2, 4]).tickSize(4).tickPadding(5).tickFormat(d => String(d)));
const gcy = svg.append("g").attr("transform", `translate(${cLeft},0)`)
  .call(d3.axisLeft(cy).tickValues([0, 0.2, 0.4]).tickSize(4).tickPadding(3).tickFormat(d3.format(".1f")));
[gcx, gcy].forEach(g => {
  g.select(".domain").remove();
  g.selectAll("line").attr("stroke", "#333");
  g.selectAll("text").attr("font-size", 14).attr("fill", "#4d4d4d").attr("font-family", "Liberation Sans");
});
svg.append("text").attr("x", 581).attr("y", 1004).attr("text-anchor", "middle").attr("font-size", 20.3)
  .attr("fill", "#111").text("Downburst Environment Index");
svg.append("text").attr("transform", "translate(170,780) rotate(-90)").attr("text-anchor", "middle").attr("font-size", 20.5)
  .attr("fill", "#111").text("Probability density function");

svg.append("rect").attr("x", 790).attr("y", 623.3).attr("width", 148.3).attr("height", 77.7)
  .attr("fill", "#fff").attr("stroke", "#333").attr("stroke-width", 1);
const legendNames = ["Non-sev TSTM", "Downburst"];
const legendFills = ["#ffbbb4", "#5ecde0"];
legendNames.forEach((name, i) => {
  svg.append("rect").attr("x", 800).attr("y", 632 + i * 34.7).attr("width", 26).attr("height", 26)
    .attr("fill", legendFills[i]).attr("stroke", "#000").attr("stroke-width", 1.5);
  svg.append("text").attr("x", 835.7).attr("y", 650 + i * 34.7).attr("font-size", 14).attr("fill", "#222").text(name);
});
panelLetter(10, 614, "C");
</script>
</body>
</html>
